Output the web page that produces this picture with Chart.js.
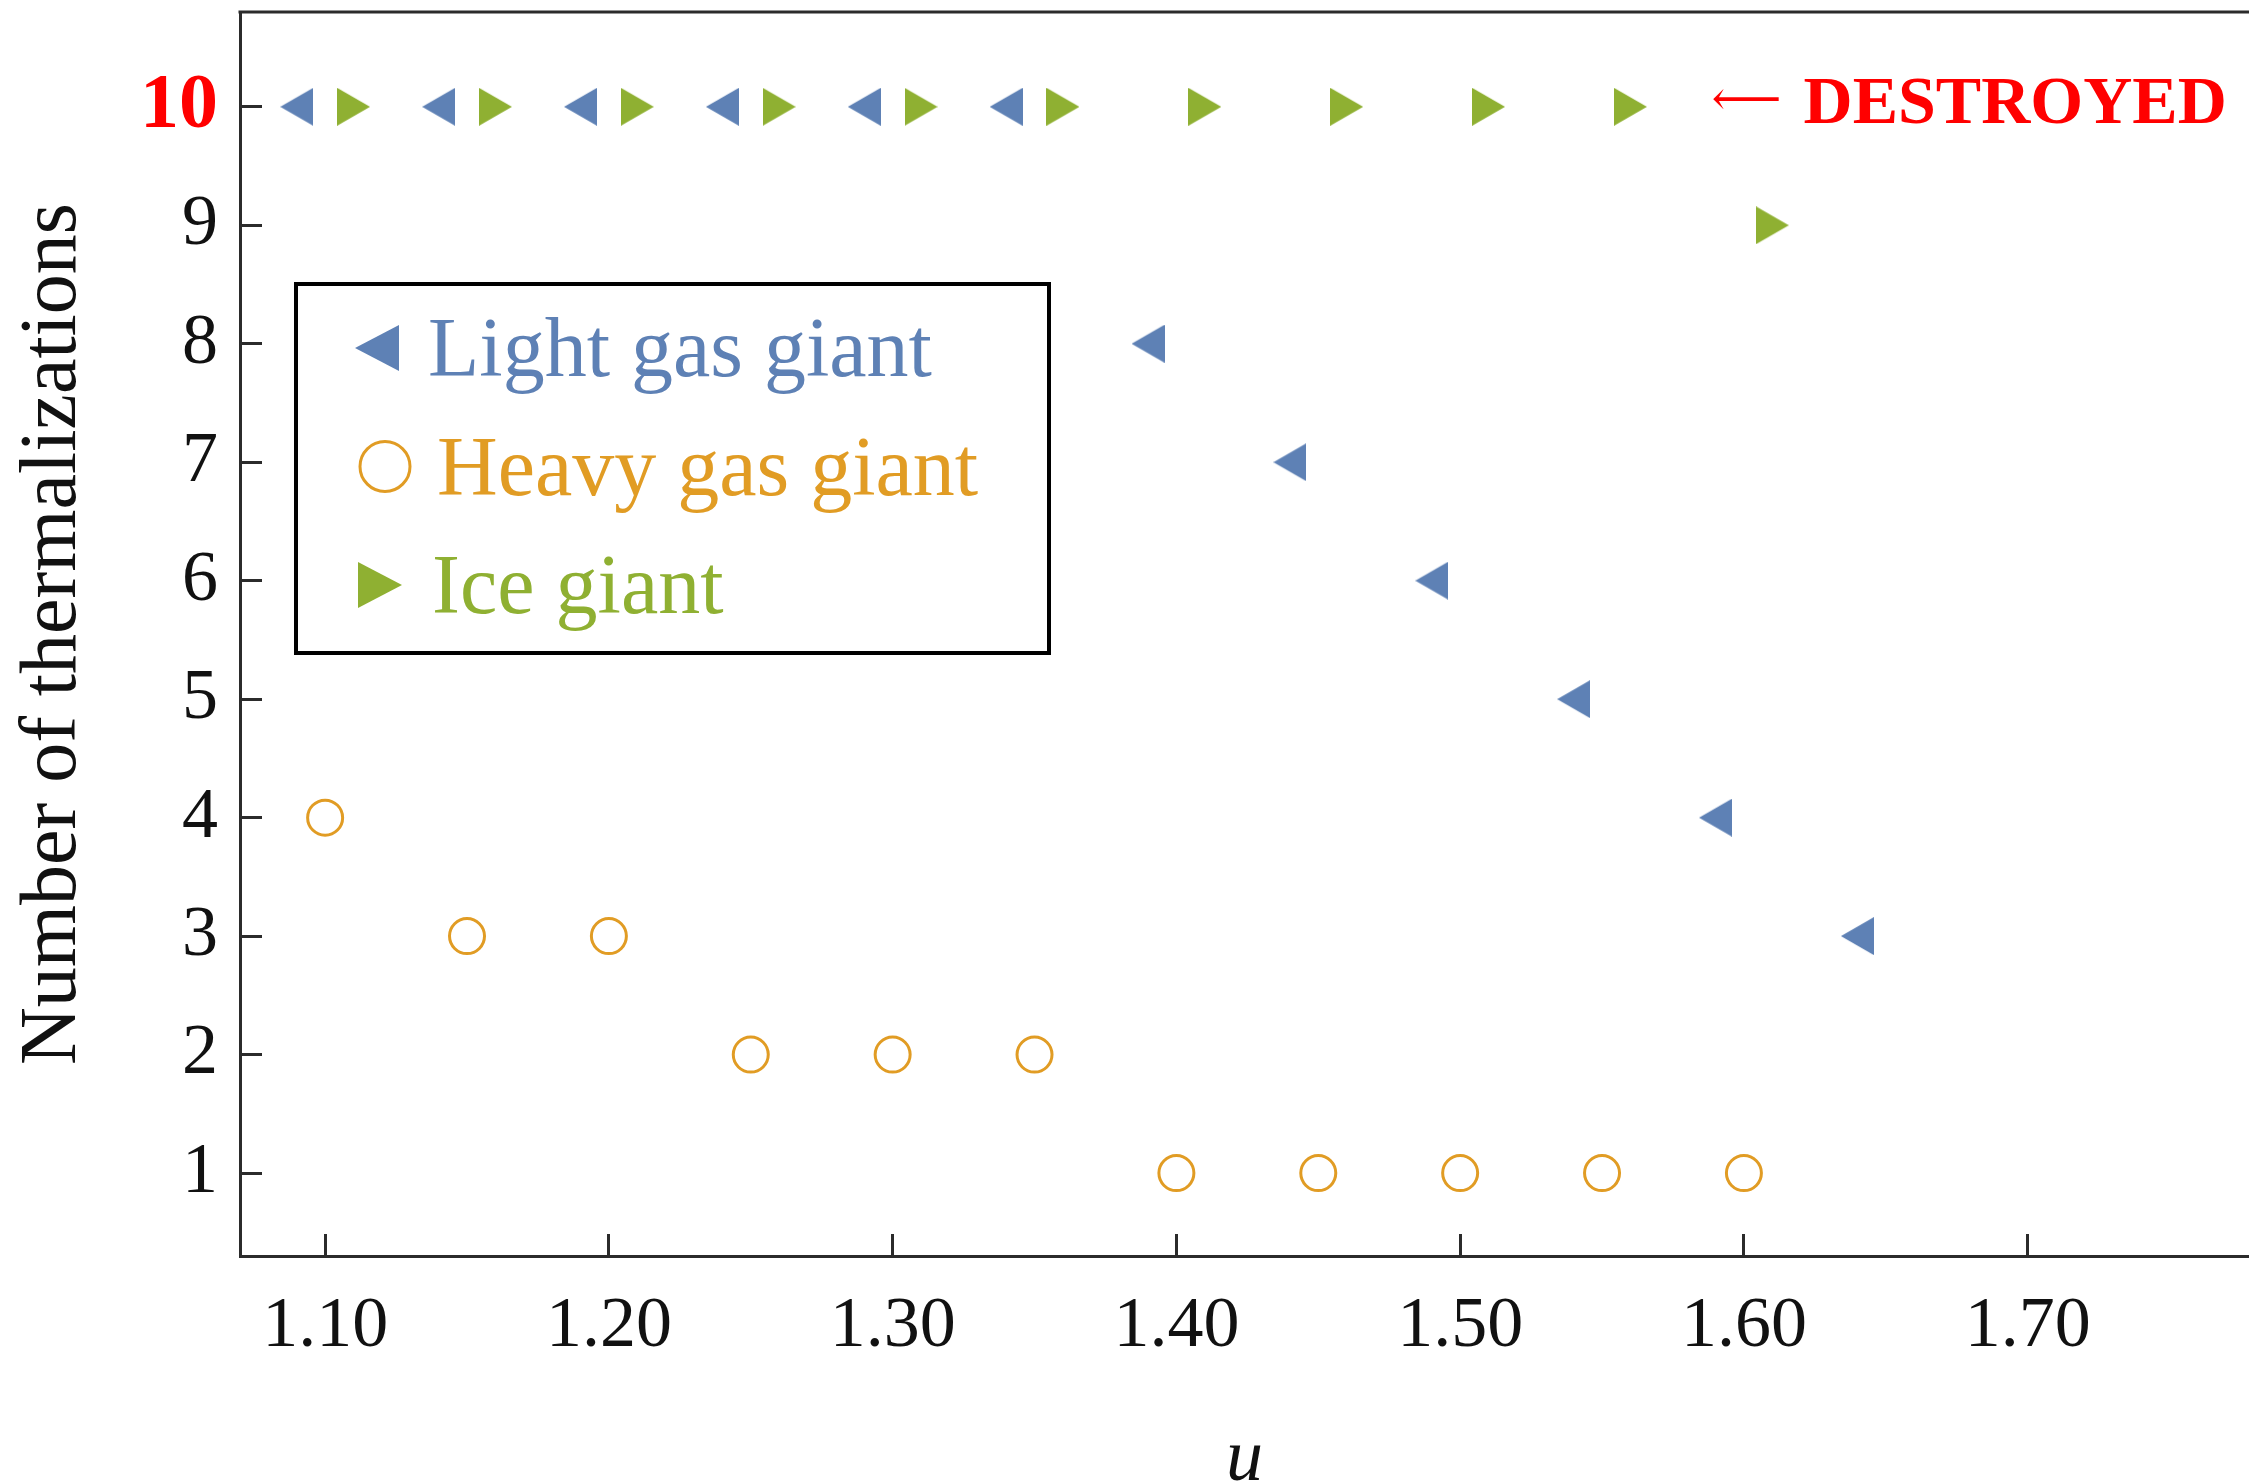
<!DOCTYPE html>
<html>
<head>
<meta charset="utf-8">
<script src="https://cdn.jsdelivr.net/npm/chart.js@4/dist/chart.umd.min.js"></script>
<style>
html,body{margin:0;padding:0;background:#fff;}
#wrap{width:2249px;height:1483px;position:relative;}
</style>
</head>
<body>
<div id="wrap"><canvas id="c" width="2249" height="1483"></canvas></div>
<script>
// ---- data ----
const lightU = [1.09, 1.14, 1.19, 1.24, 1.29, 1.34, 1.39, 1.44, 1.49, 1.54, 1.59, 1.64];
const lightN = [10, 10, 10, 10, 10, 10, 8, 7, 6, 5, 4, 3];
const heavyU = [1.10, 1.15, 1.20, 1.25, 1.30, 1.35, 1.40, 1.45, 1.50, 1.55, 1.60];
const heavyN = [4, 3, 3, 2, 2, 2, 1, 1, 1, 1, 1];
const iceU = [1.11, 1.16, 1.21, 1.26, 1.31, 1.36, 1.41, 1.46, 1.51, 1.56, 1.61];
const iceN = [10, 10, 10, 10, 10, 10, 10, 10, 10, 10, 9];
const seriesNames = ['Light gas giant', 'Heavy gas giant', 'Ice giant'];
const xTickValues = [1.10, 1.20, 1.30, 1.40, 1.50, 1.60, 1.70];
const yTickValues = [1, 2, 3, 4, 5, 6, 7, 8, 9, 10];
const destroyedLevel = 10;
const destroyedU = 1.59;
const destroyedArrow = '\u27F5';
const destroyedText = 'DESTROYED';
const xTitle = 'u';
const yTitle = 'Number of thermalizations';

// ---- styling ----
const FAMILY = '"Liberation Serif", "Times New Roman", serif';
const BLUE = '#5E81B5', ORANGE = '#E19C24', GREEN = '#8FB032';
const AXIS = '#2b2b2b';
const TEXT = '#111111';

const zip = (xs, ys) => xs.map((x, i) => ({x: x, y: ys[i]}));

// triangle marker images, centred on their bounding box
function makeTriangle(dir, w, h, color) {
  const c = document.createElement('canvas');
  c.width = w; c.height = h;
  const g = c.getContext('2d');
  g.fillStyle = color;
  g.beginPath();
  if (dir === 'left') {
    g.moveTo(0, h / 2); g.lineTo(w, 0); g.lineTo(w, h);
  } else {
    g.moveTo(w, h / 2); g.lineTo(0, 0); g.lineTo(0, h);
  }
  g.closePath();
  g.fill();
  return c;
}
const triLeft = makeTriangle('left', 33, 38, BLUE);
const triRight = makeTriangle('right', 33, 38, GREEN);
const triLeftBig = makeTriangle('left', 44, 46, BLUE);
const triRightBig = makeTriangle('right', 44, 46, GREEN);

const frameTop = {
  id: 'frameTop',
  afterDraw(chart) {
    const {ctx, chartArea} = chart;
    ctx.save();
    ctx.strokeStyle = AXIS;
    ctx.lineWidth = 3;
    ctx.beginPath();
    ctx.moveTo(chartArea.left - 1.5, chartArea.top);
    ctx.lineTo(chartArea.right + 2, chartArea.top);
    ctx.stroke();
    ctx.restore();
  }
};

const destroyedNote = {
  id: 'destroyedNote',
  afterDraw(chart) {
    const {ctx} = chart;
    const xs = chart.scales.x, ys = chart.scales.y;
    const x0 = xs.getPixelForValue(destroyedU);
    const yBase = ys.getPixelForValue(destroyedLevel) + 16;
    ctx.save();
    ctx.fillStyle = '#ff0000';
    ctx.textAlign = 'left';
    ctx.textBaseline = 'middle';
    const arrowFont = '"DejaVu Serif", "DejaVu Sans", serif';
    ctx.font = '100px ' + arrowFont;
    const w100 = ctx.measureText(destroyedArrow).width || 100;
    const aSize = 100 * 70 / w100;
    ctx.font = aSize.toFixed(1) + 'px ' + arrowFont;
    ctx.fillText(destroyedArrow, x0 - 4, yBase - 20);
    ctx.font = 'bold 68px ' + FAMILY;
    ctx.textBaseline = 'alphabetic';
    ctx.fillText(destroyedText, x0 + 88, yBase);
    ctx.restore();
  }
};

const boxLegend = {
  id: 'boxLegend',
  afterDraw(chart) {
    const {ctx, chartArea} = chart;
    const L = chartArea.left + 56, T = chartArea.top + 272;
    const W = 753, H = 369;
    ctx.save();
    ctx.fillStyle = '#ffffff';
    ctx.fillRect(L, T, W, H);
    ctx.strokeStyle = '#000000';
    ctx.lineWidth = 4;
    ctx.strokeRect(L, T, W, H);
    const rows = [
      {name: seriesNames[0], color: BLUE, style: triLeftBig, r: 22, bw: 0, fill: BLUE, mx: 377, tx: 428},
      {name: seriesNames[1], color: ORANGE, style: 'circle', r: 25, bw: 3, fill: 'rgba(0,0,0,0)', mx: 385, tx: 437},
      {name: seriesNames[2], color: GREEN, style: triRightBig, r: 22, bw: 0, fill: GREEN, mx: 380, tx: 432}
    ];
    rows.forEach((row, i) => {
      const cy = T + 64 + i * 118.5;
      ctx.fillStyle = row.fill;
      ctx.strokeStyle = row.color;
      ctx.lineWidth = row.bw;
      Chart.helpers.drawPoint(ctx, {pointStyle: row.style, rotation: 0, radius: row.r, borderWidth: row.bw}, row.mx, cy);
      ctx.fillStyle = row.color;
      ctx.font = '84px ' + FAMILY;
      ctx.textAlign = 'left';
      ctx.textBaseline = 'alphabetic';
      ctx.fillText(row.name, row.tx, cy + 28);
    });
    ctx.restore();
  }
};

new Chart(document.getElementById('c'), {
  type: 'scatter',
  data: {
    datasets: [
      {label: seriesNames[0], data: zip(lightU, lightN), pointStyle: triLeft,
       pointRadius: 19, pointHoverRadius: 19, backgroundColor: BLUE, borderColor: BLUE, borderWidth: 0},
      {label: seriesNames[1], data: zip(heavyU, heavyN), pointStyle: 'circle',
       pointRadius: 17.5, pointHoverRadius: 17.5, backgroundColor: 'rgba(0,0,0,0)', borderColor: ORANGE, borderWidth: 3},
      {label: seriesNames[2], data: zip(iceU, iceN), pointStyle: triRight,
       pointRadius: 19, pointHoverRadius: 19, backgroundColor: GREEN, borderColor: GREEN, borderWidth: 0}
    ]
  },
  options: {
    responsive: false,
    animation: false,
    devicePixelRatio: 1,
    layout: {autoPadding: false, padding: {top: 12, left: 0, right: 0, bottom: 0}},
    plugins: {legend: {display: false}, tooltip: {enabled: false}},
    elements: {point: {borderWidth: 0}},
    scales: {
      x: {
        type: 'linear', min: 1.07, max: 1.778,
        afterBuildTicks: s => { s.ticks = xTickValues.map(v => ({value: v})); },
        afterFit: s => { s.height = 227; s.paddingLeft = 0; s.paddingRight = 0; },
        grid: {drawOnChartArea: false, drawTicks: true, tickLength: -22, lineWidth: 3, color: AXIS},
        border: {display: true, width: 3, color: AXIS},
        ticks: {padding: 50, color: TEXT, font: {family: FAMILY, size: 72}, maxRotation: 0, autoSkip: false,
                callback: v => Number(v).toFixed(2)},
        title: {display: true, text: xTitle, color: TEXT, font: {family: FAMILY, size: 74, style: 'italic', lineHeight: 0.6},
                padding: {top: 0, bottom: 0}}
      },
      y: {
        type: 'linear', min: 0.3, max: 10.8,
        afterBuildTicks: s => { s.ticks = yTickValues.map(v => ({value: v})); },
        afterFit: s => { s.width = 240; s.paddingTop = 0; s.paddingBottom = 0; },
        grid: {drawOnChartArea: false, drawTicks: true, tickLength: -22, lineWidth: 3, color: AXIS},
        border: {display: true, width: 3, color: AXIS},
        ticks: {
          padding: 44, autoSkip: false,
          color: c => (c.tick && c.tick.value === destroyedLevel) ? '#ff0000' : TEXT,
          font: c => (c.tick && c.tick.value === destroyedLevel)
            ? {family: FAMILY, size: 78, weight: 'bold'}
            : {family: FAMILY, size: 72},
          callback: v => String(v)
        },
        title: {display: true, text: yTitle, color: TEXT, font: {family: FAMILY, size: 80}, padding: {top: 6, bottom: 0}}
      }
    }
  },
  plugins: [frameTop, boxLegend, destroyedNote]
});
</script>
</body>
</html>
